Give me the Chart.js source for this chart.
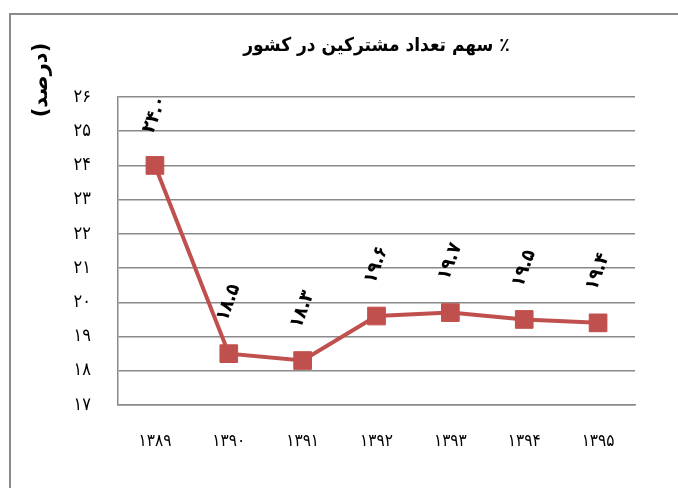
<!DOCTYPE html>
<html>
<head>
<meta charset="utf-8">
<script src="https://cdn.jsdelivr.net/npm/chart.js@4.4.0/dist/chart.umd.min.js"></script>
<style>
  body { margin: 0; background: #fff; }
  canvas { display: block; }
</style>
</head>
<body>
<canvas id="shareChart" width="678" height="488"></canvas>
<script>
// داده‌ها
const years = ['۱۳۸۹', '۱۳۹۰', '۱۳۹۱', '۱۳۹۲', '۱۳۹۳', '۱۳۹۴', '۱۳۹۵'];
const shares = [24.0, 18.5, 18.3, 19.6, 19.7, 19.5, 19.4];
const yTicks = [17, 18, 19, 20, 21, 22, 23, 24, 25, 26];
const chartTitle = '٪ سهم تعداد مشترکین در کشور';
const axisTitle = '(درصد)';

const lineColor = '#C0504D';
const gridColor = '#8a8a8a';
const font = 'DejaVu Sans Condensed';

function toPersian(str) {
    return String(str).replace(/[0-9]/g, d => '۰۱۲۳۴۵۶۷۸۹'[d]);
}

// قاب، عنوان و برچسب داده‌ها
const decorPlugin = {
    id: 'decor',
    beforeDraw(chart) {
        const c = chart.ctx;
        c.save();
        c.fillStyle = '#fff';
        c.fillRect(0, 0, chart.width, chart.height);
        c.strokeStyle = '#8a8a8a';
        c.lineWidth = 2;
        c.beginPath();
        c.moveTo(10, chart.height);
        c.lineTo(10, 14);
        c.lineTo(chart.width, 14);
        c.stroke();
        c.restore();
    },
    afterDraw(chart) {
        const c = chart.ctx;
        const area = chart.chartArea;
        c.save();
        c.fillStyle = '#000';
        c.direction = 'rtl';
        c.textAlign = 'center';
        c.textBaseline = 'middle';
        c.font = 'bold 19px "' + font + '"';
        c.fillText(chartTitle, (area.left + area.right) / 2, 46);

        c.save();
        c.translate(42, 80);
        c.rotate(-Math.PI / 2);
        c.font = 'bold 21px "DejaVu Sans"';
        c.fillText(axisTitle, 0, 0);
        c.restore();

        const meta = chart.getDatasetMeta(0);
        c.direction = 'ltr';
        c.font = 'bold 19px "' + font + '"';
        meta.data.forEach((pt, i) => {
            c.save();
            c.translate(pt.x, pt.y - 51);
            c.rotate(-70 * Math.PI / 180);
            c.fillText(toPersian(shares[i].toFixed(1)), 0, 0);
            c.restore();
        });
        c.restore();
    }
};

let ctx = document.getElementById('shareChart').getContext('2d');

let shareChart = new Chart(ctx, {
    type: 'line',
    data: {
        labels: years,
        datasets: [{
            data: shares,
            borderColor: lineColor,
            backgroundColor: lineColor,
            borderWidth: 4,
            pointStyle: 'rect',
            pointRadius: 12.5,
            pointBorderWidth: 1,
            tension: 0
        }]
    },
    options: {
        responsive: false,
        animation: false,
        layout: {
            padding: { top: 97, right: 43, left: 0, bottom: 0 }
        },
        plugins: {
            legend: { display: false },
            tooltip: { enabled: false }
        },
        scales: {
            x: {
                offset: true,
                grid: { display: false, drawTicks: false },
                border: { display: true, color: gridColor, width: 1.5 },
                ticks: {
                    padding: 26,
                    color: '#000',
                    font: { family: font, size: 17 }
                },
                afterFit(scale) { scale.height = 83; }
            },
            y: {
                min: 17,
                max: 26,
                afterBuildTicks(scale) {
                    scale.ticks = yTicks.map(v => ({ value: v }));
                },
                grid: { color: gridColor, lineWidth: 1.5, drawTicks: false },
                border: { display: true, color: gridColor, width: 1.5 },
                ticks: {
                    padding: 27,
                    color: '#000',
                    font: { family: font, size: 18 },
                    callback: v => toPersian(v)
                },
                afterFit(scale) { scale.width = 118; }
            }
        }
    },
    plugins: [decorPlugin]
});
</script>
</body>
</html>
